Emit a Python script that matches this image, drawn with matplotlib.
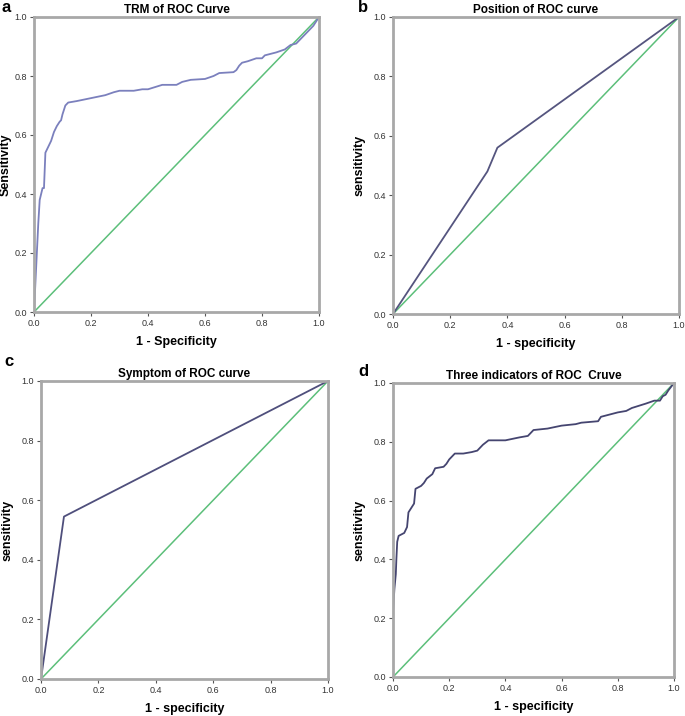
import numpy as np
import matplotlib
matplotlib.use("Agg")
import matplotlib.pyplot as plt

plt.rcParams['font.family'] = ['Liberation Sans', 'DejaVu Sans']

# ROC curve points
trm_fpr = [0, 0.005, 0.01, 0.015, 0.02, 0.025, 0.03, 0.035, 0.04, 0.05, 0.06, 0.07, 0.08,
           0.09, 0.095, 0.1, 0.11, 0.12, 0.15, 0.2, 0.25, 0.28, 0.3, 0.35, 0.38, 0.4, 0.45,
           0.5, 0.52, 0.55, 0.6, 0.63, 0.65, 0.7, 0.71, 0.72, 0.73, 0.75, 0.78, 0.8, 0.81,
           0.83, 0.85, 0.88, 0.9, 0.92, 0.94, 0.96, 0.98, 1.0]
trm_tpr = [0, 0.1, 0.2, 0.3, 0.38, 0.40, 0.42, 0.42, 0.54, 0.56, 0.58, 0.61, 0.63,
           0.645, 0.65, 0.67, 0.70, 0.71, 0.715, 0.725, 0.735, 0.745, 0.75, 0.75, 0.755, 0.755, 0.77,
           0.77, 0.78, 0.787, 0.79, 0.80, 0.81, 0.813, 0.82, 0.835, 0.845, 0.85, 0.86, 0.86, 0.87,
           0.875, 0.88, 0.89, 0.905, 0.91, 0.93, 0.95, 0.97, 1.0]

pos_fpr = [0, 0.33, 0.365, 1.0]
pos_tpr = [0, 0.48, 0.56, 1.0]

sym_fpr = [0, 0.08, 1.0]
sym_tpr = [0, 0.545, 1.0]

three_fpr = [0, 0, 0.005, 0.01, 0.012, 0.015, 0.02, 0.03, 0.04, 0.05, 0.055, 0.065, 0.075,
             0.08, 0.09, 0.1, 0.11, 0.12, 0.14, 0.15, 0.18, 0.19, 0.2, 0.22, 0.25, 0.28, 0.3,
             0.32, 0.34, 0.4, 0.45, 0.48, 0.5, 0.55, 0.6, 0.65, 0.67, 0.73, 0.74, 0.78, 0.8,
             0.83, 0.85, 0.9, 0.93, 0.95, 0.96, 0.97, 0.98, 1.0]
three_tpr = [0, 0.22, 0.3, 0.35, 0.40, 0.46, 0.48, 0.485, 0.49, 0.51, 0.56, 0.575, 0.59,
             0.64, 0.645, 0.65, 0.66, 0.675, 0.69, 0.71, 0.715, 0.725, 0.74, 0.76, 0.76, 0.765, 0.77,
             0.79, 0.805, 0.805, 0.815, 0.82, 0.84, 0.845, 0.855, 0.86, 0.865, 0.87, 0.885, 0.895, 0.9,
             0.905, 0.915, 0.93, 0.94, 0.94, 0.955, 0.96, 0.975, 1.0]

W, H = 685, 716
fig = plt.figure(figsize=(W / 100, H / 100), dpi=100)

panels = [
    # letter, letter pos px, title, xlabel, ylabel, fpr, tpr, (left, top, right, bottom) px, color
    ('a', (2, 8), 'TRM of ROC Curve', '1 - Specificity', 'Sensitivity', trm_fpr, trm_tpr,
     (34, 17, 319, 312), '#7b80bd'),
    ('b', (358, 8), 'Position of ROC curve', '1 - specificity', 'sensitivity', pos_fpr, pos_tpr,
     (393, 17, 679, 314), '#55557f'),
    ('c', (4, 361), 'Symptom of ROC curve', '1 - specificity', 'sensitivity', sym_fpr, sym_tpr,
     (41, 381, 328, 679), '#4f4f7c'),
    ('d', (358, 372), 'Three indicators of ROC  Cruve', '1 - specificity', 'sensitivity',
     three_fpr, three_tpr, (393, 383, 674, 677), '#454570'),
]

ticks = [0.0, 0.2, 0.4, 0.6, 0.8, 1.0]
for letter, (lx, ly), title, xl, yl, fpr, tpr, (l, t, r, b), col in panels:
    ax = fig.add_axes([l / W, 1 - b / H, (r - l) / W, (b - t) / H])
    ax.plot([0, 1], [0, 1], color='#5cbf7a', lw=1.1)
    ax.plot(fpr, tpr, color=col, lw=1.3)
    ax.set_xlim(0, 1)
    ax.set_ylim(0, 1)
    ax.set_xticks(ticks)
    ax.set_yticks(ticks)
    ax.set_xticklabels(['%.1f' % v for v in ticks])
    ax.set_yticklabels(['%.1f' % v for v in ticks])
    ax.tick_params(labelsize=6.5, length=3, width=0.8, color='#555555', labelcolor='#333333', pad=2)
    for s in ax.spines.values():
        s.set_color('#a8a8a8')
        s.set_linewidth(2)
    ax.set_title(title, fontsize=8.5, fontweight='bold', pad=3)
    ax.set_xlabel(xl, fontsize=9, fontweight='bold', labelpad=6)
    ax.set_ylabel(yl, fontsize=9, fontweight='bold', labelpad=2 if letter == 'a' else 6)
    fig.text(lx / W, 1 - ly / H, letter, fontsize=12, fontweight='bold', ha='left', va='center')

fig.savefig('out.png', dpi=100)
